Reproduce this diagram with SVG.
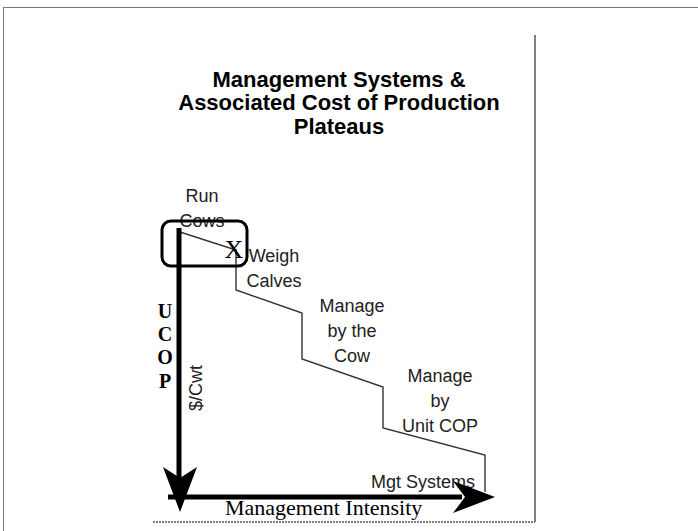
<svg xmlns="http://www.w3.org/2000/svg" width="698" height="531" viewBox="0 0 698 531">
<style>
.title{font-family:"Liberation Sans",Arial,sans-serif;font-weight:bold;font-size:22px;fill:#000;text-anchor:middle}
.lbl{font-family:"Liberation Sans",Arial,sans-serif;font-size:18px;fill:#222;text-anchor:middle}
.serif{font-family:"Liberation Serif","Times New Roman",serif;fill:#000}
.step{fill:none;stroke:#333;stroke-width:1.4}
.axis{stroke:#000;stroke-width:5;fill:none}
</style>
<rect x="0" y="0" width="698" height="531" fill="#fff"/>
<g id="frame">
<rect x="3.5" y="7.5" width="800" height="600" fill="none" stroke="#777" stroke-width="1"/>
<line x1="535" y1="35" x2="535" y2="522" stroke="#555" stroke-width="1.5"/>
<line x1="153" y1="522" x2="535" y2="522" stroke="#555" stroke-width="1.5" stroke-dasharray="2,1"/>
</g>
<g id="title">
<text class="title" x="339" y="87">Management Systems &amp;</text>
<text class="title" x="339" y="110">Associated Cost of Production</text>
<text class="title" x="339" y="134">Plateaus</text>
</g>
<g id="node-run-cows">
<text class="lbl" x="202" y="202">Run</text>
<text class="lbl" x="202" y="227">Cows</text>
</g>
<g id="node-weigh-calves">
<text class="lbl" x="274" y="262">Weigh</text>
<text class="lbl" x="274" y="287">Calves</text>
</g>
<g id="node-manage-cow">
<text class="lbl" x="352" y="312">Manage</text>
<text class="lbl" x="352" y="337">by the</text>
<text class="lbl" x="352" y="362">Cow</text>
</g>
<g id="node-manage-unit">
<text class="lbl" x="440" y="382">Manage</text>
<text class="lbl" x="440" y="407">by</text>
<text class="lbl" x="440" y="432">Unit COP</text>
</g>
<g id="node-mgt-systems">
<text class="lbl" x="423" y="488">Mgt Systems</text>
</g>
<g id="node-ucop">
<text class="serif" font-weight="bold" font-size="20" text-anchor="middle" x="165" y="318">U</text>
<text class="serif" font-weight="bold" font-size="20" text-anchor="middle" x="165" y="341">C</text>
<text class="serif" font-weight="bold" font-size="20" text-anchor="middle" x="165" y="364">O</text>
<text class="serif" font-weight="bold" font-size="20" text-anchor="middle" x="165" y="388">P</text>
</g>
<g id="node-cwt">
<text class="lbl" font-size="17" transform="translate(202,388) rotate(-90)" x="0" y="0">$/Cwt</text>
</g>
<g id="node-intensity">
<text class="serif" font-size="22" x="225" y="515">Management Intensity</text>
</g>
<g id="connectors">
<polyline class="step" points="180,232 236,250 236,290 302,313 302,359 383,387 383,428 485,455 485,492"/>
<line class="axis" x1="179" y1="228" x2="179" y2="478"/>
<line class="axis" x1="168" y1="497" x2="462" y2="497"/>
<polygon points="180,512 163,467 180,478 197,467" fill="#000"/>
<polygon points="495,497 453,481 465,497 453,513" fill="#000"/>
</g>
<g id="node-x">
<text class="serif" font-size="26" text-anchor="middle" x="234" y="258">X</text>
</g>
<g id="node-highlight">
<rect x="162" y="221" width="85" height="45" rx="9" fill="none" stroke="#000" stroke-width="3"/>
</g>
</svg>
